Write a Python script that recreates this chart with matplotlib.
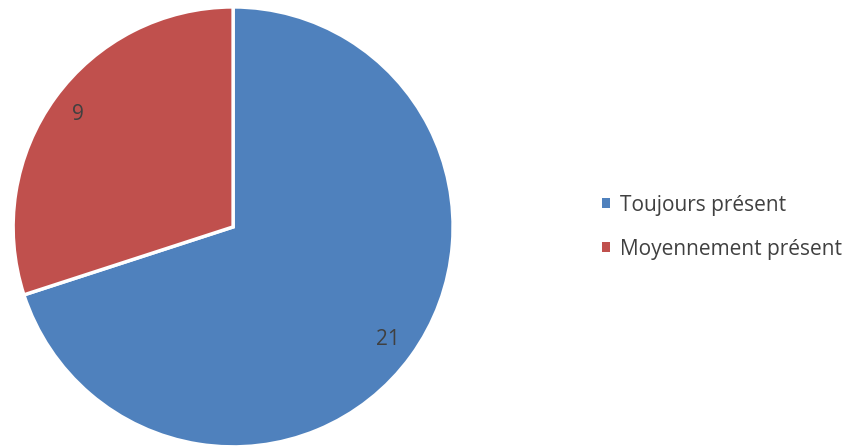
import matplotlib
matplotlib.use("Agg")
import matplotlib.pyplot as plt
from matplotlib.patches import Patch

plt.rcParams['font.family'] = ['Open Sans', 'DejaVu Sans']

categories = ["Toujours présent", "Moyennement présent"]
values = [21, 9]
colors = ["#4F81BD", "#C0504D"]

fig = plt.figure(figsize=(8.57, 4.48), dpi=100)
ax = fig.add_axes([0.014, 0.0, 0.516, 0.987])

wedges, texts, autotexts = ax.pie(
    values, colors=colors, startangle=90, counterclock=False,
    autopct=lambda p: f"{round(p * sum(values) / 100):d}",
    pctdistance=0.87,
    wedgeprops=dict(edgecolor="white", linewidth=2.5),
    textprops=dict(color="#404040", fontsize=15),
)
ax.set_xlim(-1.005, 1.005)
ax.set_ylim(-1.005, 1.005)
ax.set_aspect("equal")

handles = [Patch(facecolor=c, edgecolor="none") for c in colors]
fig.legend(handles, categories, loc="center left", bbox_to_anchor=(0.68, 0.493),
           frameon=False, fontsize=15, handlelength=0.4, handleheight=0.4,
           handletextpad=0.5, labelspacing=1.1, labelcolor="#404040")

fig.savefig("out.png", dpi=100)
